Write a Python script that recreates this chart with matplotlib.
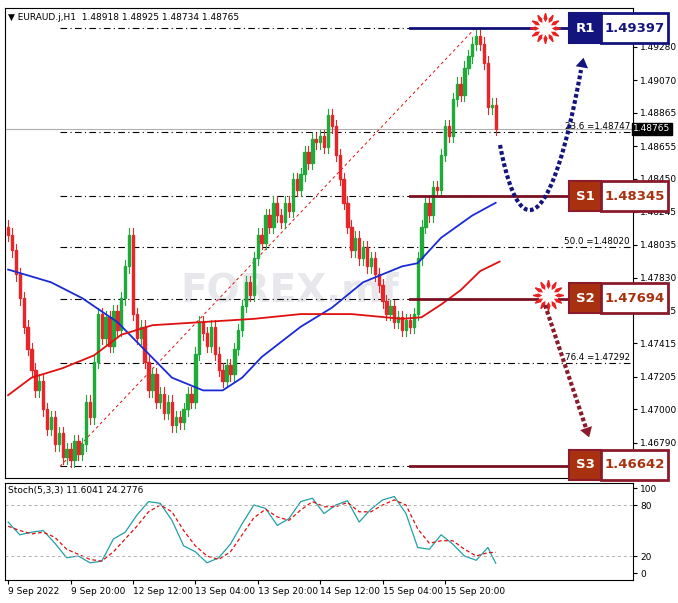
import matplotlib
matplotlib.use("Agg")
import matplotlib.pyplot as plt
import numpy as np
from matplotlib.patches import Rectangle

closes = [1.4810,1.4800,1.4785,1.4770,1.4752, 1.4738,1.4725,1.4712,1.4718,1.4700,
          1.4688,1.4695,1.4678,1.4685,1.4670, 1.4675,1.4668,1.4680,1.4672,1.4678,
          1.4705,1.4695,1.4730,1.4760,1.4745, 1.4758,1.4740,1.4762,1.4750,1.4770,
          1.4790,1.4810,1.4760,1.4745,1.4752, 1.4730,1.4712,1.4722,1.4705,1.4710,
          1.4698,1.4705,1.4690,1.4695,1.4692, 1.4700,1.4710,1.4705,1.4735,1.4755,
          1.4748,1.4740,1.4752,1.4735,1.4725, 1.4718,1.4728,1.4722,1.4738,1.4750,
          1.4765,1.4780,1.4772,1.4795,1.4810, 1.4805,1.4822,1.4815,1.4830,1.4822,
          1.4818,1.4830,1.4825,1.4845,1.4838, 1.4848,1.4862,1.4855,1.4870,1.4868,
          1.4872,1.4865,1.4885,1.4878,1.4860, 1.4845,1.4830,1.4815,1.4800,1.4808,
          1.4795,1.4802,1.4790,1.4795,1.4785, 1.4778,1.4768,1.4760,1.4765,1.4755,
          1.4758,1.4750,1.4756,1.4752,1.4760, 1.4795,1.4815,1.4830,1.4822,1.4840,
          1.4838,1.4860,1.4878,1.4872,1.4895, 1.4905,1.4898,1.4915,1.4922,1.4930,
          1.4935,1.4930,1.4918,1.4890,1.48918, 1.48765]
first_open = 1.4815
wick = 0.0004

blue_ma_bar = [0, 11, 19, 28, 32, 42, 50, 55, 60, 65, 75, 83, 91, 101, 105, 111, 119, 125]
blue_ma_val = [1.4788,1.4780,1.4770,1.4755,1.4745,1.4720,1.4712,1.4712,1.4720,1.4733,1.4752,1.4764,1.4780,1.4790,1.4792,1.4808,1.4822,1.4830]
red_ma_bar = [0, 6, 14, 22, 29, 37, 50, 63, 75, 88, 101, 106, 111, 116, 121, 126]
red_ma_val = [1.4709,1.4720,1.4726,1.4734,1.4747,1.4753,1.4755,1.4757,1.4760,1.4760,1.4757,1.4758,1.4766,1.4775,1.4787,1.4793]

stoch_bar = list(range(0, 126, 3)) + [125]
stoch_k = [60,45,48,50,35,18,20,12,14,40,48,68,84,82,62,32,25,12,18,34,58,80,76,56,64,84,88,70,80,85,
           60,75,86,90,70,30,28,45,34,20,15,30,11.6]
stoch_d = [55,50,46,48,42,28,22,16,14,25,40,55,72,80,72,50,32,20,16,25,45,65,75,66,62,74,84,78,78,83,
           72,72,80,86,80,52,35,38,38,28,20,24,24.3]

fib_levels = [1.49397, 1.48747, 1.48345, 1.48020, 1.47694, 1.47292, 1.46642]
sr_names = ["R1", "S1", "S2", "S3"]
sr_values = [1.49397, 1.48345, 1.47694, 1.46642]
price_ticks = [1.49280,1.49070,1.48865,1.48655,1.48450,1.48245,1.48035,1.47830,1.47625,1.47415,1.47205,1.47000,1.46790]
time_labels = ["9 Sep 2022","9 Sep 20:00","12 Sep 12:00","13 Sep 04:00","13 Sep 20:00","14 Sep 12:00","15 Sep 04:00","15 Sep 20:00"]
last_price = 1.48765

W, H = 678, 603
fig = plt.figure(figsize=(W/100, H/100), dpi=100)
ax = fig.add_axes([5/W, (H-478)/H, 628/W, 470/H])
axs = fig.add_axes([5/W, (H-580)/H, 628/W, 97/H])

XMIN, XMAX = -0.8, 160.2
YMIN, YMAX = 1.46569, 1.49525
def px(xp): return XMIN + (xp-5)/628*(XMAX-XMIN)
def py(yp): return YMAX - (yp-8)/470*(YMAX-YMIN)

opens = [first_open] + closes[:-1]
up_c, dn_c = "#1faa3a", "#e8262a"
for i,(o,c) in enumerate(zip(opens, closes)):
    col = up_c if c >= o else dn_c
    hi, lo = max(o,c)+wick, min(o,c)-wick
    ax.plot([i,i],[lo,hi], color=col, lw=0.8, zorder=3)
    ax.add_patch(Rectangle((i-0.3, min(o,c)), 0.6, max(abs(c-o),0.00003), color=col, zorder=4))

ax.plot(blue_ma_bar, blue_ma_val, color="#1a2bd6", lw=1.3, zorder=5)
ax.plot(red_ma_bar, red_ma_val, color="#e01010", lw=1.3, zorder=5)

for lv in fib_levels:
    ax.plot([px(60), px(633)], [lv, lv], color="black", lw=0.8, ls=(0,(6,3,1,3)), zorder=2)
for lv, nm in [(1.48747,"23.6"),(1.48020,"50.0"),(1.47292,"76.4")]:
    ax.text(px(630), lv+0.00005, f"{nm} =%.5f" % lv, fontsize=6.3, ha="right", va="bottom", zorder=6)
ax.plot([px(60), px(475)], [1.46642, 1.49397], color="#e01010", lw=0.7, ls=(0,(3,3)), zorder=2)
ax.axhline(last_price, color="#b0b0b0", lw=0.8, zorder=1)

for nm, v in zip(sr_names, sr_values):
    isr = nm == "R1"
    lc = "#10107a" if isr else "#7a1020"
    ax.plot([px(410), px(570)], [v, v], color=lc, lw=2, zorder=6)
    fill = "#14147e" if isr else "#a8320f"
    border = "#14147e" if isr else "#8b1a2a"
    tc = "#14147e" if isr else "#a8320f"
    yc = {"R1":28, "S1":196, "S2":298, "S3":465}[nm]
    ax.add_patch(Rectangle((px(569), py(yc+15)), px(601)-px(569), py(yc-15)-py(yc+15), facecolor=fill, edgecolor=border, lw=1.5, zorder=7, clip_on=False))
    ax.add_patch(Rectangle((px(601), py(yc+15)), px(668)-px(601), py(yc-15)-py(yc+15), facecolor="white", edgecolor=border, lw=2, zorder=7, clip_on=False))
    ax.text(px(585), py(yc), nm, color="white", fontsize=9.5, fontweight="bold", ha="center", va="center", zorder=8, clip_on=False)
    ax.text(px(634.5), py(yc), "%.5f" % v, color=tc, fontsize=9.5, fontweight="bold", ha="center", va="center", zorder=8, clip_on=False)

for xs, ys in [(545, 28), (548, 295)]:
    ax.plot(px(xs), py(ys), marker=(12,1,0), ms=22, color="#e82020", zorder=8)
    ax.plot(px(xs), py(ys), marker=(12,1,15), ms=14, color="white", zorder=9)

# dotted projection curves
t = np.linspace(0, 1, 60)
P = np.array([(500,145), (520,250), (552,230), (581,70)], float)
bez = ((1-t)**3)[:,None]*P[0] + (3*(1-t)**2*t)[:,None]*P[1] + (3*(1-t)*t**2)[:,None]*P[2] + (t**3)[:,None]*P[3]
ax.plot(px(bez[:,0]), py(bez[:,1]), color="#14147e", lw=3, ls=(0,(0.9,0.6)), zorder=8)
ax.annotate("", xy=(px(584), py(55)), xytext=(px(581), py(72)),
            arrowprops=dict(arrowstyle="-|>,head_length=0.7,head_width=0.45", color="#14147e", lw=0), zorder=8)
ax.plot([px(545), px(586)], [py(305), py(428)], color="#8b1a2a", lw=3, ls=(0,(0.9,0.6)), zorder=8)
ax.annotate("", xy=(px(590), py(440)), xytext=(px(585), py(425)),
            arrowprops=dict(arrowstyle="-|>,head_length=0.7,head_width=0.45", color="#8b1a2a", lw=0), zorder=8)

ax.text(px(290), py(290), "FOREX.mf", fontsize=28, color="#d8d8e0", alpha=0.6, ha="center", va="center", fontweight="bold", zorder=0)

ax.set_xlim(XMIN, XMAX); ax.set_ylim(YMIN, YMAX)
ax.yaxis.tick_right()
ax.set_yticks(price_ticks)
ax.set_yticklabels(["%.5f" % t for t in price_ticks], fontsize=6.5)
ax.set_xticks([])
ax.tick_params(axis="y", length=3, pad=2)
ax.text(px(633), last_price, "%.5f" % last_price, fontsize=6.5, color="white", va="center", ha="left",
        bbox=dict(boxstyle="square,pad=0.15", fc="black", ec="black"), zorder=10, clip_on=False)
ax.text(0.005, 0.99, "▼ EURAUD.j,H1  1.48918 1.48925 1.48734 1.48765", transform=ax.transAxes, fontsize=6.5, va="top")

axs.plot(stoch_bar, stoch_k, color="#20a0a8", lw=0.9)
axs.plot(stoch_bar, stoch_d, color="#e01010", lw=0.9, ls=(0,(3,2)))
for lv in (80, 20):
    axs.axhline(lv, color="#b0b0b0", lw=0.7, ls=(0,(3,3)))
axs.set_xlim(XMIN, XMAX); axs.set_ylim(-8.2, 105.9)
axs.yaxis.tick_right()
axs.set_yticks([100, 80, 20, 0]); axs.set_yticklabels(["100","80","20","0"], fontsize=6.5)
axs.tick_params(axis="y", length=3, pad=2)
axs.set_xticks([i*16 for i in range(len(time_labels))])
axs.set_xticklabels(time_labels, fontsize=6.5, ha="left")
axs.tick_params(axis="x", length=3, pad=2)
axs.text(0.005, 0.97, "Stoch(5,3,3) 11.6041 24.2776", transform=axs.transAxes, fontsize=6.5, va="top")

fig.savefig("out.png", dpi=100)
